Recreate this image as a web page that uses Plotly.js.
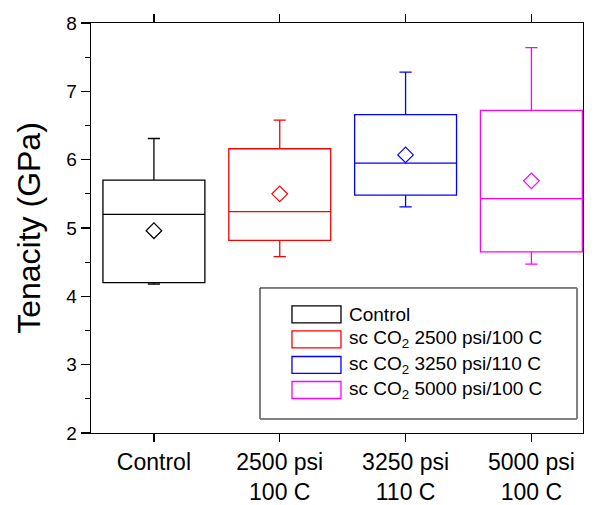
<!DOCTYPE html>
<html>
<head>
<meta charset="utf-8">
<script src="https://cdn.plot.ly/plotly-3.0.1.min.js"></script>
<style>html,body{margin:0;padding:0;background:#fff;}#chart{width:595px;height:505px;}</style>
</head>
<body>
<div id="chart"></div>
<script>
// ---- data ----
var categories = [0, 1, 2, 3];
var tickLabels = ['Control', '2500 psi<br>100 C', '3250 psi<br>110 C', '5000 psi<br>100 C'];
var seriesNames = ['Control', 'sc CO<sub>2</sub> 2500 psi/100 C', 'sc CO<sub>2</sub> 3250 psi/110 C', 'sc CO<sub>2</sub> 5000 psi/100 C'];
var lowerWhisker = [4.18, 4.58, 5.31, 4.47];
var q1Values     = [4.20, 4.82, 5.48, 4.65];
var medianValues = [5.20, 5.24, 5.95, 5.43];
var q3Values     = [5.70, 6.16, 6.66, 6.72];
var upperWhisker = [6.31, 6.58, 7.28, 7.64];
var meanValues   = [4.96, 5.50, 6.07, 5.69];

// ---- styles ----
var colors = ['#000000', '#ff0000', '#0000ff', '#ff00ff'];

var traces = [];
categories.forEach(function (c, i) {
  traces.push({
    type: 'box',
    x: [c],
    q1: [q1Values[i]],
    median: [medianValues[i]],
    q3: [q3Values[i]],
    lowerfence: [lowerWhisker[i]],
    upperfence: [upperWhisker[i]],
    width: 0.81,
    whiskerwidth: 0.12,
    boxpoints: false,
    fillcolor: 'rgba(0,0,0,0)',
    line: {color: colors[i], width: 1.3},
    name: seriesNames[i],
    showlegend: false,
    hoverinfo: 'skip'
  });
  traces.push({
    type: 'scatter',
    mode: 'markers',
    x: [c],
    y: [meanValues[i]],
    marker: {symbol: 'diamond-open', size: 12, color: colors[i], line: {width: 1.2, color: colors[i]}},
    showlegend: false,
    hoverinfo: 'skip'
  });
});

// ---- manual legend (paper coords) ----
var shapes = [];
var annotations = [];
var legX0 = 0.3435, legX1 = 0.9878, legY0 = 0.0341, legY1 = 0.3537;
shapes.push({type: 'rect', xref: 'paper', yref: 'paper', x0: legX0, x1: legX1, y0: legY0, y1: legY1,
  line: {color: '#000', width: 1}, fillcolor: 'rgba(0,0,0,0)'});
shapes.push({type: 'line', xref: 'paper', yref: 'paper', x0: legX1, x1: legX1, y0: legY0, y1: legY1,
  line: {color: '#808080', width: 2}});
shapes.push({type: 'line', xref: 'paper', yref: 'paper', x0: legX0, x1: legX1, y0: legY0, y1: legY0,
  line: {color: '#808080', width: 2}});
var rowY = [0.2895, 0.2285, 0.1659, 0.1049];
var halfH = 0.0207;
seriesNames.forEach(function (n, i) {
  shapes.push({type: 'rect', xref: 'paper', yref: 'paper', x0: 0.4085, x1: 0.5081,
    y0: rowY[i] - halfH, y1: rowY[i] + halfH, line: {color: colors[i], width: 1.3}, fillcolor: 'rgba(0,0,0,0)'});
  annotations.push({xref: 'paper', yref: 'paper', x: 0.5203, y: rowY[i], xanchor: 'left', yanchor: 'middle',
    text: n, showarrow: false, font: {family: 'Liberation Sans, Arial, sans-serif', size: 19, color: '#000'}});
});

var layout = {
  width: 595, height: 505,
  margin: {l: 91, r: 12, t: 23, b: 72},
  paper_bgcolor: '#fff', plot_bgcolor: '#fff',
  font: {family: 'Liberation Sans, Arial, sans-serif', color: '#000'},
  showlegend: false,
  xaxis: {
    range: [-0.5, 3.41],
    tickmode: 'array', tickvals: categories, ticktext: tickLabels,
    ticks: 'outside', ticklen: 8, tickwidth: 1.3, tickcolor: '#000',
    showline: true, linecolor: '#000', linewidth: 1.3, mirror: 'ticks',
    showgrid: false, zeroline: false,
    tickfont: {size: 23}
  },
  yaxis: {
    range: [2, 8], dtick: 1, tick0: 2,
    ticks: 'outside', ticklen: 9, tickwidth: 1.3, tickcolor: '#000',
    minor: {dtick: 0.5, ticks: 'outside', ticklen: 5, tickwidth: 1.3, tickcolor: '#000'},
    showline: true, linecolor: '#000', linewidth: 1.3, mirror: true,
    showgrid: false, zeroline: false,
    tickfont: {size: 19},
    title: {text: 'Tenacity (GPa)', font: {size: 32}, standoff: 16}
  },
  shapes: shapes,
  annotations: annotations
};

Plotly.newPlot('chart', traces, layout, {staticPlot: true, displayModeBar: false});
</script>
</body>
</html>
